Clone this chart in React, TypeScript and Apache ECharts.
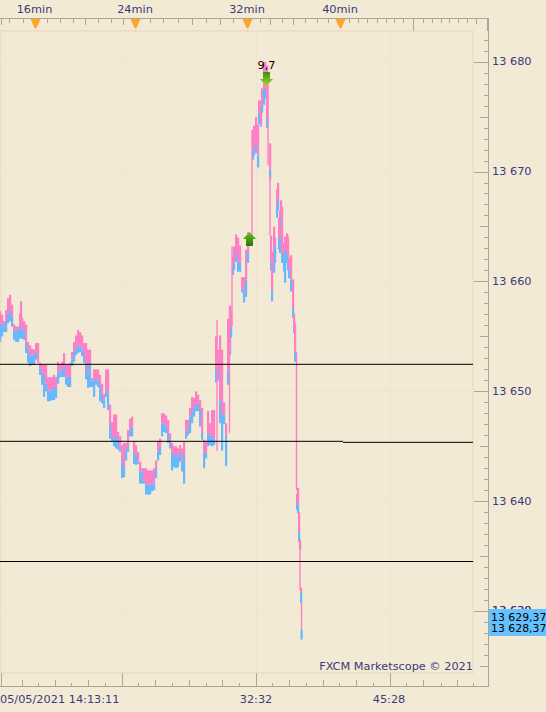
import React, { useEffect, useRef } from "react";
import * as echarts from "echarts";

const base = 13600;
const barX = [0,2,4,6,8,10,12,14,16,18,20,21,22,24,26,28,30,32,34,36,38,40,42,44,46,48,50,52,54,56,58,60,62,64,66,68,70,72,74,76,78,80,82,84,86,88,90,92,94,96,98,100,102,104,106,108,110,112,114,116,118,
120,122,124,126,128,130,132,134,136,138,140,142,144,146,148,150,152,154,156,158,160,162,164,166,168,170,172,174,176,178,180,182,184,186,188,190,192,194,196,198,200,202,204,206,208,210,212,214,216,218,220,222,224,226,228,230,231,
233,234,236,238,240,242,244,246,248,253,254,256,258,259,260,261,262,264,265,267,270,271,272,274,275,277,278,279,280,281,282,284,285,287,288,289,291,293,294,295,297,298,299,300,301,301.5];
const askHigh = [57.3,57.0,56.4,57.4,58.5,58.8,57.9,56.1,55.9,55.9,57.1,58.2,56.7,56.4,56.1,54.5,54.2,53.9,53.8,54.4,54.4,52.6,52.4,52.4,52.4,51.3,51.3,51.3,51.5,51.3,52.7,52.4,52.7,53.5,52.4,52.4,52.6,53.6,54.5,55.1,55.6,55.4,55.1,54.4,54.4,53.8,53.8,51.2,52.0,52.0,52.0,51.5,50.7,49.8,52.0,52.0,48.8,47.2,47.9,47.9,46.3,
45.9,45.1,45.3,45.3,46.5,47.5,47.7,45.4,45.1,44.5,43.6,43.0,43.0,43.0,42.8,42.8,42.8,43.0,43.7,45.4,45.7,48.0,48.0,47.8,47.4,46.2,45.3,45.0,45.0,44.8,45.1,44.8,45.4,47.4,47.4,48.5,49.5,49.4,50.0,49.7,49.2,48.5,45.6,45.4,48.2,47.1,48.3,48.3,55.0,53.8,55.1,53.8,49.0,47.1,56.6,57.8,57.4,
62.2,63.2,64.3,64.0,63.3,60.4,60.4,62.9,64.5,73.8,74.2,75.0,74.3,76.5,76.5,76.1,77.6,80.0,80.0,79.7,72.6,64.2,62.7,65.0,64.0,68.4,69.0,65.8,66.5,67.4,66.8,63.5,64.1,64.4,64.1,62.2,62.4,60.2,57.1,56.2,40.7,41.2,39.0,36.5,32.1,28.3].map((v) => base + v);
const askLow = [56.2,56.2,55.9,56.4,57.1,57.4,56.8,55.6,55.4,55.6,55.9,56.0,55.6,55.6,54.5,53.8,53.3,53.3,53.3,53.6,52.7,52.1,51.7,51.5,50.7,50.1,50.1,50.1,50.4,50.4,51.8,51.7,52.0,52.3,51.3,51.3,51.3,52.9,53.6,53.9,54.2,54.1,53.9,53.3,52.6,51.7,52.4,51.0,51.0,51.2,51.0,50.6,49.7,49.2,50.1,49.8,47.1,45.9,45.7,46.0,45.6,
44.8,43.6,43.1,44.7,45.1,46.5,46.8,44.5,44.2,43.6,42.8,42.7,41.9,41.5,41.5,41.5,41.6,41.6,43.0,44.5,45.0,47.1,47.1,46.8,46.2,45.4,44.5,44.2,44.1,44.1,44.5,43.6,44.2,46.2,46.6,47.7,48.2,48.5,48.9,48.9,48.3,46.2,44.4,44.4,46.2,46.0,46.0,45.7,52.0,52.0,49.2,47.9,47.9,46.0,52.0,53.8,55.9,
61.3,61.7,62.6,61.8,61.8,59.4,59.1,60.2,62.7,72.0,72.0,72.6,71.5,75.4,75.2,74.3,76.1,77.5,77.6,75.0,70.2,62.0,59.2,61.7,63.3,66.7,67.4,64.1,64.0,65.9,62.7,62.2,62.7,62.9,62.2,61.2,60.2,57.6,56.0,53.6,40.1,39.7,37.2,36.0,31.7,28.3].map((v) => base + v);
const bidLow = [54.5,55.0,55.4,55.4,56.2,56.4,55.9,54.7,54.5,54.5,54.8,55.0,54.8,54.7,53.5,52.6,52.3,52.4,52.4,52.9,52.6,51.5,50.6,49.5,50.0,49.1,49.1,49.2,49.2,49.4,50.7,51.3,51.3,51.3,50.6,50.4,50.4,52.3,52.7,53.3,53.5,53.6,53.2,52.6,51.1,50.3,50.4,50.4,49.5,50.6,50.4,49.1,48.9,48.5,49.5,48.3,45.7,45.4,45.0,44.8,44.7,
44.5,42.1,42.2,43.7,44.5,45.9,45.9,43.4,43.3,43.4,41.6,41.6,41.6,40.6,40.6,40.6,40.9,41.0,42.1,43.7,44.2,45.9,46.3,46.2,45.3,44.8,42.8,43.1,43.0,43.1,43.6,42.7,41.6,45.7,46.0,46.2,47.1,47.7,48.2,48.2,46.8,45.6,43.0,43.9,45.0,45.1,45.0,45.1,50.8,51.0,47.1,44.6,47.0,43.2,50.6,53.3,54.9,
60.6,61.1,61.8,60.9,60.9,59.0,58.1,58.6,61.7,71.1,71.5,71.7,70.4,74.3,74.5,74.1,75.4,76.1,76.7,74.0,69.3,61.0,58.2,60.8,61.7,65.8,66.5,62.9,62.6,64.9,61.7,60.9,59.9,61.7,61.0,60.3,59.1,56.7,55.3,52.7,39.2,38.9,36.3,35.6,30.7,27.4].map((v) => base + v);

const linkX = [217,229.5,232,252,268,270,296.5,300,301.5];
const linkHigh = [56.5,57.8,63.2,73.8,78.8,69.7,53.6,36.5,30.7].map((v) => base + v);
const linkLow = [44.6,46.2,55.9,63.4,70.6,64.2,41.0,31.9,28.3].map((v) => base + v);

const supportLevels = [13652.465, 13634.505];
const brokenLevel = [13645.451, 13645.36];
const signalUp = [249.5, 13663.88];
const signalDown = [266.5, 13678.45];
const signalText = "9,7";

const priceMajor = [13630,13640,13650,13660,13670,13680];
const priceMiddle = [13625,13635,13645,13655,13665,13675];
const priceMinor: number[] = [];
for (let p = 13625; p <= 13682; p++) priceMinor.push(p);

const timeLabels: Record<number, string> = { 0: "05/05/2021 14:13:11", 256: "32:32", 389: "45:28" };
const minuteLabels: Record<number, string> = { 34.5: "16min", 135: "24min", 247: "32min", 340: "40min" };
const minuteMarks = [35, 135, 247, 340];
const bottomLong = [1, 122, 256, 390];
const bottomMiddle = [22, 55, 88, 155, 189, 222, 289, 323, 356, 423, 457];
const bottomShort = [38, 71, 105, 138, 172, 206, 239, 272, 306, 339, 373, 406, 441, 473];
const topLong = [413];
const topMiddle = [1, 85, 123, 192, 220, 270, 293];
const topShort = [9,23,47,60,73,98,111,150,163,178,206,233,260,282,305,317,328,349,358,367,377,386,394,403,423,432,441,449,458,467];

const FONT = "DejaVu Sans";
const FS = 11.3;
const INK = "#3b3a7a";
const BG = "#f3ead6";
const GRIDC = "#f3e3c9";
const BORDER = "#eedfc6";
const RULER = "#aca698";
const PINK = "#ff7fc4";
const BLUE = "#66b8ff";

const rulerAxis = (
  position: "top" | "bottom",
  values: number[],
  length: number,
  extra: any = {}
) => ({
  type: "value",
  position,
  offset: 13,
  min: 0,
  max: 473,
  axisLine: { show: false, onZero: false },
  axisTick: { show: true, inside: true, length, customValues: values, lineStyle: { color: RULER, width: 1 } },
  axisLabel: { show: false },
  splitLine: { show: false },
  ...extra,
});

const priceAxis = (values: number[], length: number, extra: any = {}) => ({
  type: "value",
  position: "right",
  offset: 15,
  min: 13624.35,
  max: 13682.823,
  axisLine: { show: false, onZero: false },
  axisTick: { show: true, inside: true, length, customValues: values, lineStyle: { color: RULER, width: 1 } },
  axisLabel: { show: false },
  splitLine: { show: false },
  ...extra,
});

const arrowPath = "path://M6.5 0 L13 7 L10 7 L10 14 L3 14 L3 7 L0 7 Z";

const bars = (params: any, api: any) => {
  const x = api.coord([api.value(0), api.value(1)])[0];
  const yHigh = api.coord([api.value(0), api.value(1)])[1];
  const yMid = api.coord([api.value(0), api.value(2)])[1];
  const yLow = api.coord([api.value(0), api.value(3)])[1];
  return {
    type: "group",
    children: [
      { type: "rect", shape: { x: x - 1, y: yMid, width: 2.2, height: yLow - yMid }, style: { fill: BLUE } },
      { type: "rect", shape: { x: x - 1, y: yHigh, width: 2.2, height: yMid - yHigh }, style: { fill: PINK } },
    ],
  };
};

const links = (params: any, api: any) => {
  const x = api.coord([api.value(0), api.value(1)])[0];
  const yHigh = api.coord([api.value(0), api.value(1)])[1];
  const yLow = api.coord([api.value(0), api.value(2)])[1];
  return { type: "rect", shape: { x: x - 0.7, y: yHigh, width: 1.4, height: yLow - yHigh }, style: { fill: PINK } };
};

const levelSeries = (pts: number[][]) => ({
  type: "line",
  data: pts,
  symbol: "none",
  silent: true,
  clip: false,
  z: 5,
  lineStyle: { color: "#000", width: 1 },
});

export default function App() {
  const ref = useRef<HTMLDivElement>(null);
  useEffect(() => {
    const chart = echarts.init(ref.current!, undefined, { renderer: "svg" });
    const lineG = (x1: number, y1: number, x2: number, y2: number, stroke = RULER) => ({
      type: "line",
      shape: { x1, y1, x2, y2 },
      style: { stroke, lineWidth: 1 },
      z: 20,
    });
    chart.setOption({
      animation: false,
      backgroundColor: BG,
      grid: {
        left: 0,
        right: 73,
        top: 31,
        bottom: 39,
        outerBoundsMode: "none",
        show: true,
        backgroundColor: BG,
        borderColor: BORDER,
        borderWidth: 2,
      },
      xAxis: [
        rulerAxis("bottom", bottomLong, 13, {
          axisLabel: {
            show: true,
            customValues: Object.keys(timeLabels).map(Number),
            formatter: (v: number) => timeLabels[v] ?? "",
            color: INK,
            fontFamily: FONT,
            fontSize: FS,
            margin: 8,
            alignMinLabel: "left",
          },
          splitLine: { show: true, lineStyle: { color: GRIDC, width: 1 } },
        }),
        rulerAxis("bottom", bottomMiddle, 6),
        rulerAxis("bottom", bottomShort, 3),
        rulerAxis("top", topLong, 13, {
          axisLabel: {
            show: true,
            customValues: Object.keys(minuteLabels).map(Number),
            formatter: (v: number) => minuteLabels[v] ?? "",
            color: INK,
            fontFamily: FONT,
            fontSize: FS,
            margin: 3,
          },
        }),
        rulerAxis("top", topMiddle, 7),
        rulerAxis("top", topShort, 5),
      ],
      yAxis: [
        priceAxis(priceMajor, 14, {
          axisLabel: {
            show: true,
            customValues: priceMajor,
            formatter: (v: number) => `${String(v).slice(0, 2)} ${String(v).slice(2)}`,
            color: INK,
            fontFamily: FONT,
            fontSize: FS,
            margin: 4,
          },
          splitLine: { show: true, lineStyle: { color: GRIDC, width: 1 } },
        }),
        priceAxis(priceMiddle, 8),
        priceAxis(priceMinor, 4),
      ],
      series: [
        {
          type: "custom",
          renderItem: bars,
          data: barX.map((x, i) => [x, askHigh[i], askLow[i], bidLow[i]]),
          encode: { x: 0, y: [1, 2, 3] },
          silent: true,
          z: 3,
          clip: false,
        },
        {
          type: "custom",
          renderItem: links,
          data: linkX.map((x, i) => [x, linkHigh[i], linkLow[i]]),
          encode: { x: 0, y: [1, 2] },
          silent: true,
          z: 4,
          clip: false,
        },
        levelSeries([[0, supportLevels[0]], [473, supportLevels[0]]]),
        levelSeries([[0, supportLevels[1]], [473, supportLevels[1]]]),
        levelSeries([[0, brokenLevel[0]], [343, brokenLevel[0]]]),
        levelSeries([[343, brokenLevel[1]], [473, brokenLevel[1]]]),
        {
          type: "scatter",
          silent: true,
          z: 6,
          data: [
            {
              value: signalUp,
              symbol: arrowPath,
              symbolSize: [13, 14],
              itemStyle: {
                color: new echarts.graphic.LinearGradient(0, 0, 0, 1, [
                  { offset: 0, color: "#6cc01c" },
                  { offset: 1, color: "#1f7a08" },
                ]),
                opacity: 1,
              },
            },
            {
              value: signalDown,
              symbol: arrowPath,
              symbolRotate: 180,
              symbolSize: [13, 14],
              itemStyle: {
                color: new echarts.graphic.LinearGradient(0, 0, 0, 1, [
                  { offset: 0, color: "#a4d830" },
                  { offset: 1, color: "#3d8e0c" },
                ]),
                opacity: 1,
              },
              label: {
                show: true,
                formatter: signalText,
                position: "top",
                distance: 1,
                color: "#000",
                fontFamily: FONT,
                fontSize: FS,
              },
            },
          ],
        },
      ],
      graphic: [
        lineG(488.5, 18, 488.5, 687),
        lineG(0, 686.5, 489, 686.5),
        lineG(0, 18.5, 489, 18.5),
        lineG(476.5, 18, 476.5, 24),
        lineG(487.5, 18, 487.5, 31),
        ...minuteMarks.map((x) => lineG(x + 0.5, 27, x + 0.5, 34, "#eedcc0")),
        ...minuteMarks.map((x) => ({
          type: "polygon",
          shape: { points: [[x - 4.5, 19], [x + 5.5, 19], [x + 1.5, 28], [x - 0.5, 28]] },
          style: { fill: "#ffa526" },
          z: 21,
        })),
        {
          type: "text",
          x: 473,
          y: 666,
          style: {
            text: "FXCM Marketscope © 2021",
            fill: INK,
            font: `${FS}px "${FONT}"`,
            align: "right",
            verticalAlign: "middle",
          },
          z: 25,
        },
        {
          type: "text",
          x: 492,
          y: 610,
          style: { text: "13 620", fill: INK, font: `${FS}px "${FONT}"`, verticalAlign: "middle" },
          z: 25,
        },
        {
          type: "rect",
          shape: { x: 489, y: 609, width: 57, height: 27 },
          style: { fill: "#66c2ff" },
          z: 30,
        },
        {
          type: "text",
          x: 491,
          y: 617,
          style: { text: "13 629,37", fill: "#000", font: `10.9px "${FONT}"`, verticalAlign: "middle" },
          z: 31,
        },
        {
          type: "text",
          x: 491,
          y: 628,
          style: { text: "13 628,37", fill: "#000", font: `10.9px "${FONT}"`, verticalAlign: "middle" },
          z: 31,
        },
      ],
    });
    return () => chart.dispose();
  }, []);
  return <div ref={ref} style={{ position: "absolute", left: 0, top: 0, width: 546, height: 712 }} />;
}
